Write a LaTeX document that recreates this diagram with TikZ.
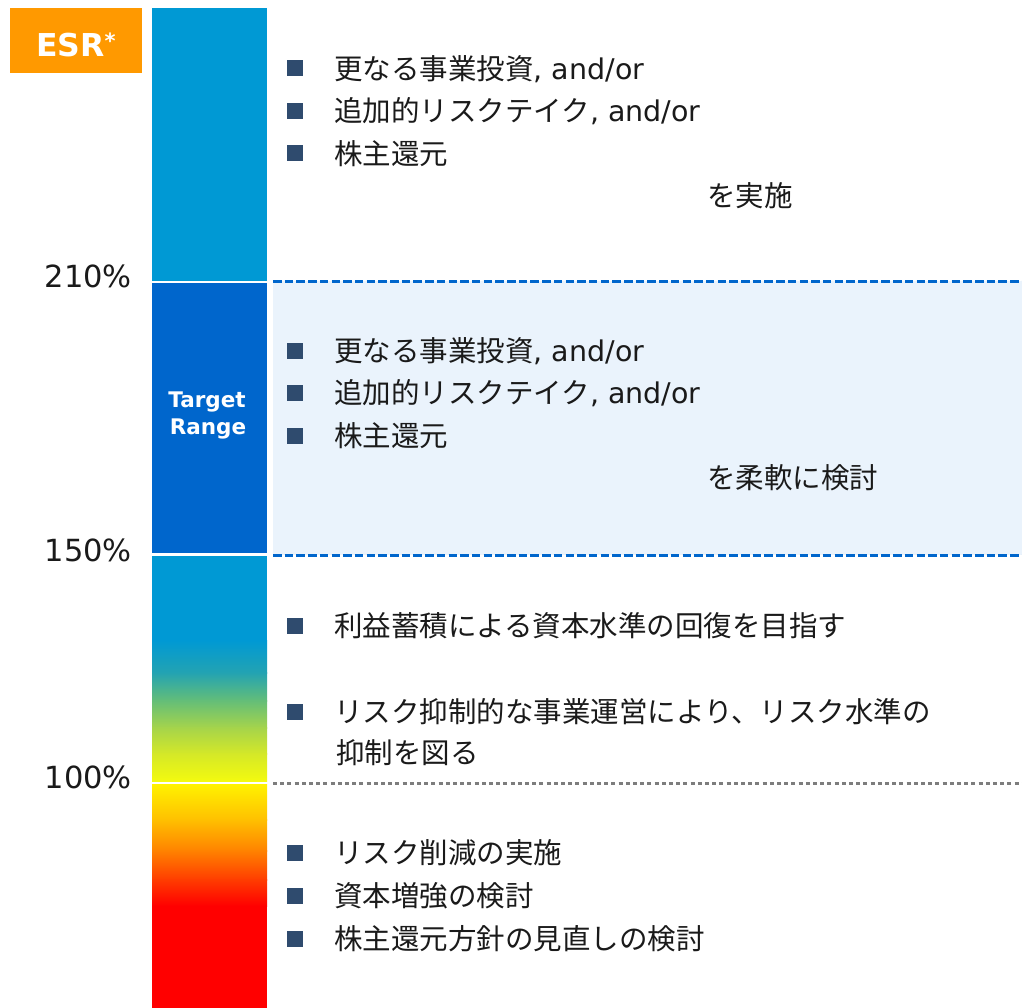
\documentclass[tikz,border=0pt]{standalone}
\usepackage{fontspec}
\setmainfont{DejaVu Sans}
\newfontfamily\jp{Noto Sans CJK JP}
\definecolor{barblue}{RGB}{0,153,212}
\definecolor{tgtblue}{RGB}{0,102,204}
\definecolor{bandblue}{RGB}{234,243,252}
\definecolor{esrorange}{RGB}{255,153,0}
\definecolor{bulletc}{RGB}{47,75,110}
\definecolor{txt}{RGB}{26,26,26}
\definecolor{dotgray}{RGB}{125,125,125}
\definecolor{gA}{RGB}{0,153,212}
\definecolor{gB}{RGB}{35,163,178}
\definecolor{gC}{RGB}{100,190,120}
\definecolor{gD}{RGB}{165,212,75}
\definecolor{gE}{RGB}{212,232,40}
\definecolor{gF}{RGB}{243,250,15}
\definecolor{rA}{RGB}{255,242,0}
\definecolor{rB}{RGB}{255,192,0}
\definecolor{rC}{RGB}{255,130,0}
\definecolor{rD}{RGB}{255,60,0}
\definecolor{rE}{RGB}{255,0,0}
\begin{document}
\begin{tikzpicture}[x=1pt,y=-1pt,
  item/.style={anchor=base west, inner sep=0pt, text=txt, font=\fontsize{28.5}{34}\selectfont\jp},
  pct/.style={anchor=base east, inner sep=0pt, text=txt, font=\fontsize{30.5}{34}\selectfont},
  bul/.style={fill=bulletc, minimum size=16pt, inner sep=0pt, draw=none},
  tgt/.style={anchor=base, inner sep=0pt, text=white, font=\fontsize{21.5}{26}\selectfont\bfseries},
  bandline/.style={draw=tgtblue, line width=3pt, dash pattern=on 8.5pt off 3.2pt},
  dotline/.style={draw=dotgray, line width=3pt, dash pattern=on 4pt off 3.2pt}
]
\useasboundingbox (0,0) rectangle (1022,1008);

% light target band
\fill[bandblue] (273,281) rectangle (1022,555);

% ESR label
\node[fill=esrorange, minimum width=132pt, minimum height=65pt, inner sep=0pt] (esr) at (76,40.5) {};
\node[anchor=base west, inner sep=0pt, text=white, font=\fontsize{31.5}{34}\selectfont\bfseries] (esrtxt) at (36,57) {ESR\raisebox{8pt}{\fontsize{21}{21}\selectfont *}};

% bar segments
\fill[barblue] (152,8) rectangle (267,281);
\fill[tgtblue] (152,283) rectangle (267,553);
\fill[barblue] (152,556) rectangle (267,641);
\foreach \ya/\yb/\ca/\cb in {640/673/gA/gB, 672.5/701/gB/gC, 700.5/728/gC/gD, 727.5/754/gD/gE, 753.5/781/gE/gF}
  \shade[top color=\ca, bottom color=\cb] (152,\ya) rectangle (267,\yb);
\foreach \ya/\yb/\ca/\cb in {784/820/rA/rB, 819.5/851/rB/rC, 850.5/880/rC/rD, 879.5/906/rD/rE}
  \shade[top color=\ca, bottom color=\cb] (152,\ya) rectangle (267,\yb);
\fill[rE] (152,905.5) rectangle (267,1008);

\node[tgt] (tgt1) at (207,407) {Target};
\node[tgt] (tgt2) at (208,434) {Range};

% divider lines
\coordinate (l1a) at (273,281);
\coordinate (l1b) at (1022,281);
\coordinate (l2a) at (273,555);
\coordinate (l2b) at (1022,555);
\coordinate (l3a) at (273,783.5);
\coordinate (l3b) at (1022,783.5);
\draw[bandline] (l1a) -- (l1b);
\draw[bandline] (l2a) -- (l2b);
\draw[dotline] (l3a) -- (l3b);

% percent labels
\node[pct] (p210) at (132,287.5) {210\%};
\node[pct] (p150) at (132,561.5) {150\%};
\node[pct] (p100) at (132,788.5) {100\%};

% group 1
\node[bul] (b11) at (295,68.5) {};
\node[item] (t11) at (334,79.3) {更なる事業投資{\fontspec{DejaVu Sans}, and/or}};
\node[bul] (b12) at (295,111) {};
\node[item] (t12) at (334,121.8) {追加的リスクテイク{\fontspec{DejaVu Sans}, and/or}};
\node[bul] (b13) at (295,153.5) {};
\node[item] (t13) at (334,164.3) {株主還元};
\node[item] (t14) at (707,206.8) {を実施};

% group 2
\node[bul] (b21) at (295,350.5) {};
\node[item] (t21) at (334,361.3) {更なる事業投資{\fontspec{DejaVu Sans}, and/or}};
\node[bul] (b22) at (295,393) {};
\node[item] (t22) at (334,403.8) {追加的リスクテイク{\fontspec{DejaVu Sans}, and/or}};
\node[bul] (b23) at (295,435.5) {};
\node[item] (t23) at (334,446.3) {株主還元};
\node[item] (t24) at (707,488.8) {を柔軟に検討};

% group 3
\node[bul] (b31) at (295,626) {};
\node[item] (t31) at (334,636.8) {利益蓄積による資本水準の回復を目指す};
\node[bul] (b32) at (295,712) {};
\node[item] (t32) at (334,722.8) {リスク抑制的な事業運営により、リスク水準の};
\node[item] (t33) at (336,763.8) {抑制を図る};

% group 4
\node[bul] (b41) at (295,853) {};
\node[item] (t41) at (334,863.8) {リスク削減の実施};
\node[bul] (b42) at (295,895.5) {};
\node[item] (t42) at (334,906.3) {資本増強の検討};
\node[bul] (b43) at (295,938.5) {};
\node[item] (t43) at (334,949.3) {株主還元方針の見直しの検討};
\end{tikzpicture}
\end{document}
